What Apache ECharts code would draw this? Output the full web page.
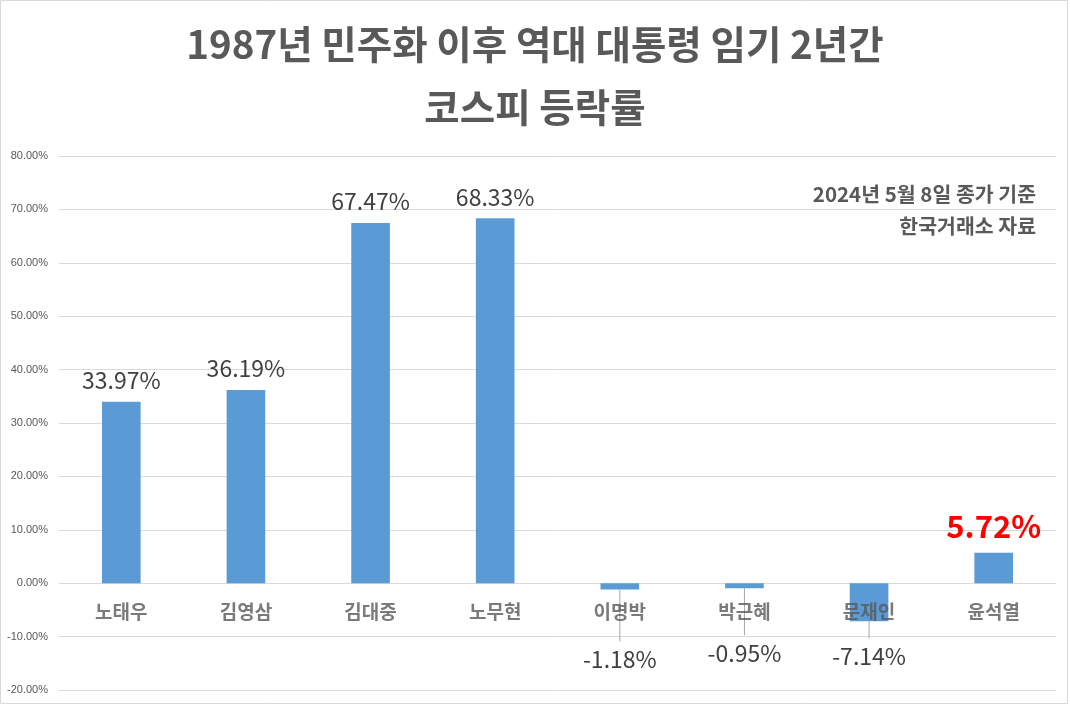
<!DOCTYPE html>
<html><head><meta charset="utf-8">
<script src="https://cdn.jsdelivr.net/npm/echarts@6/dist/echarts.min.js"></script>
<style>html,body{margin:0;padding:0;background:#fff}#c{width:1070px;height:706px}</style>
</head><body><div id="c"></div>
<script>
const categories = ['노태우','김영삼','김대중','노무현','이명박','박근혜','문재인','윤석열'];
const values = [33.97, 36.19, 67.47, 68.33, -1.18, -0.95, -7.14, 5.72];
const yTicks = {min: -20, max: 80, interval: 10};
const titleLines = ['1987년 민주화 이후 역대 대통령 임기 2년간', '코스피 등락률'];
const noteLines = ['2024년 5월 8일 종가 기준', '한국거래소 자료'];
const highlightName = '윤석열';

// label offsets (px) below negative bars
const negLabelDist = {'이명박': 58, '박근혜': 53, '문재인': 23};

const font = '"Noto Sans CJK KR", "Noto Sans", sans-serif';
const data = categories.map((c, i) => {
  const v = values[i];
  const item = {value: v, name: c};
  if (c === highlightName) {
    item.label = {color: '#ff0000', fontWeight: 'bold', fontSize: 31, distance: 11};
  } else if (v < 0) {
    item.label = {position: 'bottom', distance: negLabelDist[c] || 20};
  }
  return item;
});
const leaderData = categories.map((c, i) => values[i] < 0 ? [i, values[i]] : null).filter(Boolean);
const catLabelData = categories.map((c, i) => ({value: [i, 0], name: c}));

const chart = echarts.init(document.getElementById('c'));
chart.setOption({
  animation: false,
  backgroundColor: '#fff',
  textStyle: {fontFamily: font},
  title: [
    {text: titleLines[0], left: 'center', top: 20, textStyle: {fontFamily: font, fontSize: 38.5, fontWeight: 'bold', color: '#595959'}},
    {text: titleLines[1], left: 'center', top: 83, textStyle: {fontFamily: font, fontSize: 38.5, fontWeight: 'bold', color: '#595959'}},
    {text: noteLines[0], right: 29, top: 179, textStyle: {fontFamily: font, fontSize: 20.5, fontWeight: 'bold', color: '#595959'}},
    {text: noteLines[1], right: 29, top: 211, textStyle: {fontFamily: font, fontSize: 20.5, fontWeight: 'bold', color: '#595959'}}
  ],
  graphic: [{type: 'rect', z: 100, shape: {x: 0.5, y: 0.5, width: 1067, height: 703}, style: {fill: null, stroke: '#d9d9d9', lineWidth: 1}, silent: true}],
  grid: {left: 59, right: 14, top: 156, bottom: 16, containLabel: false, outerBoundsMode: 'none'},
  xAxis: {
    type: 'category', data: categories,
    axisLine: {show: false}, axisTick: {show: false}, axisLabel: {show: false}
  },
  yAxis: {
    type: 'value', min: yTicks.min, max: yTicks.max, interval: yTicks.interval,
    axisLine: {show: false}, axisTick: {show: false},
    axisLabel: {fontSize: 11, color: '#595959', margin: 11, formatter: v => v.toFixed(2) + '%', fontFamily: '"Liberation Sans", sans-serif'},
    splitLine: {lineStyle: {color: '#d9d9d9', width: 1}}
  },
  series: [{
    type: 'bar', data: data, barWidth: '31%', z: 2,
    itemStyle: {color: '#5b9bd5'},
    label: {show: true, position: 'top', distance: 10, fontSize: 23, color: '#404040', fontFamily: font, formatter: p => p.value.toFixed(2) + '%'}
  }, {
    type: 'custom', data: leaderData, z: 3, silent: true,
    renderItem: (params, api) => {
      const idx = api.value(0);
      const p = api.coord([idx, api.value(1)]);
      const len = (negLabelDist[categories[idx]] || 20) - 6;
      return {type: 'line', shape: {x1: p[0], y1: p[1], x2: p[0], y2: p[1] + len}, style: {stroke: '#a6a6a6', lineWidth: 1}};
    }
  }, {
    type: 'scatter', data: catLabelData, symbolSize: 0, z: 5, silent: true,
    label: {show: true, position: 'bottom', distance: 19, formatter: p => p.name, fontSize: 19, fontWeight: 'bold', color: '#595959', fontFamily: font}
  }]
});
</script></body></html>
